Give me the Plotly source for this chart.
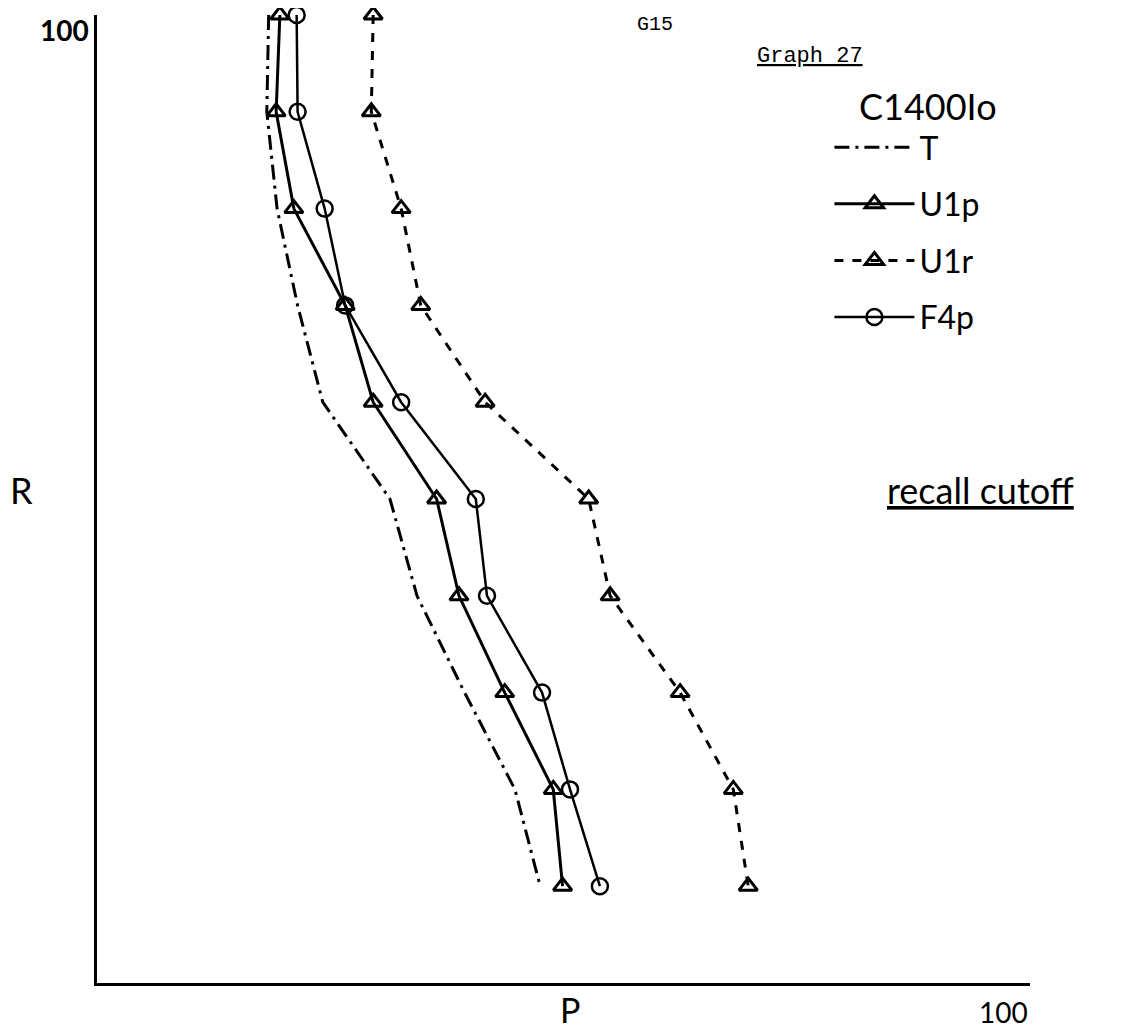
import plotly.graph_objects as go

recall = [100, 90, 80, 70, 60, 50, 40, 30, 20, 10]
t_prec = [18.4, 18.2, 19.3, 21.5, 24.2, 31.4, 34.3, 39.4, 44.8, 47.5]
u1p_prec = [19.6, 19.2, 21.1, 26.6, 29.6, 36.4, 38.8, 43.7, 48.9, 49.9]
u1r_prec = [29.6, 29.4, 32.6, 34.7, 41.6, 52.7, 55.0, 62.5, 68.2, 69.8]
f4p_prec = [21.4, 21.5, 24.4, 26.6, 32.6, 40.6, 41.8, 47.7, 50.7, 53.9]

HAND = "Lato"
MONO = "Liberation Mono"

fig = go.Figure()
fig.add_trace(go.Scatter(x=t_prec, y=recall, mode="lines", name="T", legendgroup="t",
                         line=dict(color="black", width=3, dash="longdashdot"),
                         cliponaxis=False))
fig.add_trace(go.Scatter(x=u1p_prec, y=recall, mode="lines+markers", name="U1p", legendgroup="a",
                         line=dict(color="black", width=3),
                         marker=dict(symbol="triangle-up-open", size=16, color="black",
                                     line=dict(width=3, color="black")),
                         cliponaxis=False))
fig.add_trace(go.Scatter(x=u1r_prec, y=recall, mode="lines+markers", name="U1r", legendgroup="b",
                         line=dict(color="black", width=3, dash="dash"),
                         marker=dict(symbol="triangle-up-open", size=16, color="black",
                                     line=dict(width=3, color="black")),
                         cliponaxis=False))
fig.add_trace(go.Scatter(x=f4p_prec, y=recall, mode="lines+markers", name="F4p", legendgroup="c",
                         line=dict(color="black", width=2.5),
                         marker=dict(symbol="circle-open", size=16, color="black",
                                     line=dict(width=2.5, color="black")),
                         cliponaxis=False))

ax = dict(range=[0, 100], showline=True, linecolor="black", linewidth=3,
          showgrid=False, zeroline=False, showticklabels=False, ticks="",
          fixedrange=True)
fig.update_layout(
    width=1117, height=1027,
    margin=dict(l=89, r=95, t=7, b=52, autoexpand=False),
    paper_bgcolor="white", plot_bgcolor="white",
    xaxis=ax, yaxis=ax,
    showlegend=True,
    legend=dict(x=0.785, y=0.94, xanchor="left", yanchor="top",
                bgcolor="rgba(0,0,0,0)",
                font=dict(family=HAND, size=32, color="black"),
                title=dict(text="   C1400Io", font=dict(family=HAND, size=36, color="black")),
                itemwidth=80,
                tracegroupgap=12),
    font=dict(family=HAND, color="black"),
)

annots = [
    dict(text="G15", x=0.598, y=0.99, font=dict(family=MONO, size=20)),
    dict(text="<u>Graph 27</u>", x=0.764, y=0.957, font=dict(family=MONO, size=22)),
    dict(text="<u>recall cutoff</u>", x=0.947, y=0.509, font=dict(family=HAND, size=36)),
    dict(text="R", x=-0.081, y=0.509, font=dict(family=HAND, size=36)),
    dict(text="P", x=0.507, y=-0.027, font=dict(family=HAND, size=34)),
    dict(text="100", x=0.972, y=-0.03, font=dict(family=HAND, size=28)),
    dict(text="<b>100</b>", x=-0.035, y=0.985, font=dict(family=HAND, size=28)),
]
for a in annots:
    fig.add_annotation(xref="paper", yref="paper", showarrow=False,
                       xanchor="center", yanchor="middle", **a)

fig.write_html("out.html")
